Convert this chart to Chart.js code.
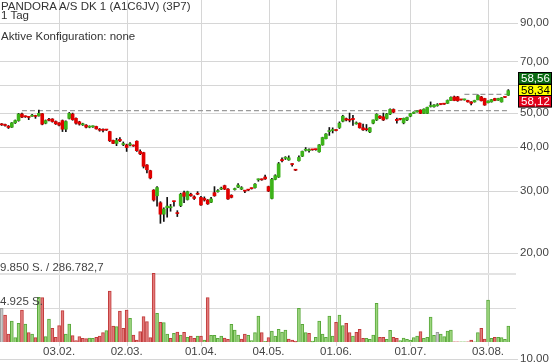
<!DOCTYPE html>
<html><head><meta charset="utf-8">
<script src="https://cdn.jsdelivr.net/npm/chart.js@4/dist/chart.umd.min.js"></script>
<style>
html,body{margin:0;padding:0;background:#fff;}
#wrap{position:relative;width:560px;height:362px;overflow:hidden;}
canvas{position:absolute;left:0;top:0;}
.t{position:absolute;left:1px;font-family:"Liberation Sans",Arial,sans-serif;font-size:11.5px;line-height:12px;color:#333;white-space:nowrap;}
</style></head><body>
<div id="wrap"><canvas id="c" width="560" height="362"></canvas>
<div class="t" style="top:0px">PANDORA A/S DK 1 (A1C6JV) (3P7)</div>
<div class="t" style="top:9px">1 Tag</div>
<div class="t" style="top:30px">Aktive Konfiguration: none</div>
</div>
<script>
// ---- data ----
const dates = [
"09.01.","10.01.","13.01.","14.01.","15.01.","16.01.","17.01.","20.01.","21.01.","22.01.","23.01.","24.01.","27.01.","28.01.","29.01.","30.01.","31.01.",
"03.02.","04.02.","05.02.","06.02.","07.02.","10.02.","11.02.","12.02.","13.02.","14.02.","17.02.","18.02.","19.02.","20.02.","21.02.","24.02.","25.02.","26.02.","27.02.","28.02.",
"02.03.","03.03.","04.03.","05.03.","06.03.","09.03.","10.03.","11.03.","12.03.","13.03.","16.03.","17.03.","18.03.","19.03.","20.03.","23.03.","24.03.","25.03.","26.03.","27.03.","30.03.","31.03.",
"01.04.","02.04.","03.04.","06.04.","07.04.","08.04.","09.04.","14.04.","15.04.","16.04.","17.04.","20.04.","21.04.","22.04.","23.04.","24.04.","27.04.","28.04.","29.04.","30.04.",
"04.05.","05.05.","06.05.","07.05.","08.05.","11.05.","12.05.","13.05.","14.05.","15.05.","18.05.","19.05.","20.05.","21.05.","22.05.","25.05.","26.05.","27.05.","28.05.","29.05.",
"01.06.","02.06.","03.06.","04.06.","05.06.","08.06.","09.06.","10.06.","11.06.","12.06.","15.06.","16.06.","17.06.","18.06.","19.06.","22.06.","23.06.","24.06.","25.06.","26.06.","29.06.","30.06.",
"01.07.","02.07.","03.07.","06.07.","07.07.","08.07.","09.07.","10.07.","13.07.","14.07.","15.07.","16.07.","17.07.","20.07.","21.07.","22.07.","23.07.","24.07.","27.07.","28.07.","29.07.","30.07.","31.07.",
"03.08.","04.08.","05.08.","06.08.","07.08.","10.08.","11.08."];

const opens = [
46.5,46.3,45.9,45.6,46.9,47.6,49.7,49.0,48.8,49.0,49.2,49.1,49.8,46.8,48.0,48.1,47.3,
46.9,47.6,45.0,48.3,49.7,48.3,47.2,46.3,46.2,45.6,45.7,45.8,44.9,44.9,44.8,44.3,41.8,41.0,42.1,40.7,
40.6,40.6,40.5,41.6,38.9,38.6,35.6,34.3,30.2,29.1,27.8,25.8,26.9,26.9,28.1,26.0,27.3,29.7,28.4,29.4,28.9,29.5,
28.8,28.6,28.3,27.9,29.7,29.9,30.4,31.1,30.4,29.2,30.3,30.8,30.4,30.1,30.3,30.6,30.7,32.3,32.4,32.9,
30.9,28.6,32.4,32.9,36.9,37.2,36.8,35.9,34.5,36.6,37.7,39.2,39.1,39.4,39.4,38.8,40.6,42.3,44.3,44.6,
44.8,45.5,47.4,48.2,48.0,48.3,46.6,46.8,45.4,45.0,44.2,46.8,47.8,49.0,48.8,48.3,49.7,51.2,48.0,48.1,46.9,47.8,
49.0,49.9,50.4,51.0,49.9,49.9,52.2,52.1,52.5,53.0,53.1,53.3,54.3,55.6,55.6,54.6,54.5,54.3,53.8,53.8,54.6,55.6,55.0,
53.5,53.8,55.0,54.4,53.8,55.5,56.2];
const highs = [
46.7,46.5,46.1,47.0,47.8,49.9,50.0,49.1,48.9,49.6,49.3,51.0,49.9,47.8,48.3,48.2,47.5,
47.0,47.8,47.5,50.2,50.0,48.5,47.4,46.8,46.4,46.0,46.0,45.9,45.2,45.1,44.9,44.4,41.9,42.4,42.6,41.4,
40.8,41.2,40.6,41.7,39.3,38.7,35.7,34.4,30.3,30.9,28.0,26.9,28.8,27.5,28.1,26.4,29.6,30.0,30.0,29.6,29.1,29.9,
29.0,28.9,28.4,28.8,30.9,30.3,30.8,31.2,30.5,29.3,30.6,31.5,30.9,30.1,30.3,30.6,31.5,32.5,32.5,33.3,
31.0,32.6,33.4,36.2,37.3,37.6,37.8,35.9,34.5,37.8,39.0,39.9,39.6,39.4,39.5,40.7,42.7,43.7,45.5,45.4,
44.9,47.2,49.3,48.4,50.0,49.3,47.2,46.9,46.5,46.4,45.5,47.8,49.8,49.2,50.0,49.9,51.4,51.4,48.4,48.2,48.4,48.7,
49.9,50.4,50.7,51.1,51.4,52.0,53.8,52.9,53.2,53.1,53.2,54.5,55.6,55.9,55.8,54.7,54.8,54.4,53.9,54.4,56.3,55.8,55.1,
54.2,54.7,55.1,55.1,55.4,55.6,58.3];
const lows = [
46.1,45.9,45.2,45.5,46.7,47.4,48.5,48.6,47.9,48.9,48.3,49.0,46.3,46.6,47.5,47.1,46.4,
46.0,44.3,44.3,48.1,47.7,46.5,46.2,46.1,45.4,45.4,45.5,45.0,44.4,44.2,44.6,41.5,40.9,40.4,41.5,40.4,
38.9,40.3,40.2,38.9,38.1,34.9,33.8,32.5,28.1,27.2,24.3,24.6,25.3,26.3,27.2,25.4,27.1,27.8,28.3,29.0,28.4,29.3,
27.3,28.1,27.5,27.8,29.0,29.8,30.3,30.3,28.4,28.7,30.2,30.7,30.3,29.7,30.1,30.4,30.6,32.0,32.2,32.4,
29.9,28.5,32.3,32.8,36.3,36.9,36.7,35.3,34.3,36.5,37.6,39.0,38.7,39.2,39.2,38.7,40.5,42.2,43.2,43.9,
44.5,45.2,47.2,47.5,47.2,46.1,46.5,45.3,44.6,44.5,44.0,46.6,47.6,48.2,47.6,48.1,49.5,50.1,46.8,47.8,46.6,47.6,
48.8,49.8,50.3,49.8,49.8,49.8,52.0,52.0,52.3,52.8,52.9,53.2,54.2,54.2,54.0,54.4,54.4,53.7,52.7,53.7,54.5,54.1,52.6,
53.4,53.7,54.2,54.3,53.7,55.3,56.1];
const closes = [
46.3,46.1,45.5,46.9,47.6,49.7,48.7,48.8,48.6,49.3,48.9,49.9,46.5,47.6,47.7,47.3,46.6,
46.2,45.0,47.3,49.9,47.9,46.8,46.5,46.45,45.6,45.8,45.9,45.1,44.7,44.65,44.75,41.7,41.0,41.8,41.7,40.8,
39.9,40.8,40.3,39.1,38.3,35.3,34.5,32.7,28.3,30.7,25.8,26.7,27.2,27.1,28.0,25.9,29.4,29.0,29.9,29.1,28.6,29.4,
27.4,28.3,27.6,28.5,29.1,30.1,30.6,30.4,28.5,28.8,30.4,31.2,30.7,30.0,30.2,30.5,31.4,32.4,32.3,32.5,
30.0,32.4,33.2,35.9,36.6,37.4,37.3,35.7,34.4,37.4,38.9,39.4,39.2,39.3,39.35,40.6,42.6,43.6,44.5,44.8,
44.6,46.8,49.0,47.8,47.7,47.9,46.8,45.4,44.8,44.85,45.4,47.8,49.6,48.4,47.8,49.7,51.2,50.3,47.6,48.0,48.3,48.6,
49.8,50.3,50.6,49.9,51.3,51.9,52.5,52.7,52.7,52.9,53.0,54.3,55.4,54.3,54.2,54.5,54.7,53.8,53.3,54.3,56.1,54.2,52.7,
54.1,54.6,54.3,55.0,55.3,55.4,57.9];
const volumes = [
4876,3911,1159,3042,628,2704,4635,2607,1352,1159,628,6470,6421,772,3331,1979,676,
2366,4538,1159,2607,917,193,772,531,483,579,531,676,869,1352,1642,7387,2317,2221,4490,1979,
4635,3428,1014,290,1497,3669,2945,628,9946,4152,2849,2800,1159,531,1255,1448,1014,1400,676,869,531,869,
869,290,6421,966,966,531,869,579,386,2559,1738,1000,435,1159,966,193,1352,3766,1352,100,
628,1593,869,1835,1448,1738,435,290,145,4876,2559,1352,1255,145,676,3042,1159,676,3766,869,
2849,3911,2366,2704,1352,869,1400,1835,531,531,400,1014,5600,676,676,386,1690,676,531,193,579,386,
290,628,869,1497,531,676,3621,966,1400,1159,772,1593,1738,40,40,40,40,40,290,40,1352,1979,435,
6083,531,676,676,628,386,2317];

const dateTicks = ["03.02.","02.03.","01.04.","04.05.","01.06.","01.07.","03.08."];
const priceTicks = [10,20,30,40,50,60,70,90];
const labeledPrices = [10,20,30,40,50,70,90];
const volumeTicks = [4925, 9850];
const volumeTickLabels = ["4.925 S.", "9.850 S. / 286.782,7"];
const quoteValues = [58.56, 58.34, 58.12];
const supportLevel = 50.8, supportFrom = "17.01.";
const resistanceLevel = 56.5, resistanceFrom = "23.07.";

// ---- styles ----
const FONT = '"Liberation Sans", Arial, sans-serif';
const candleGreen = '#3db31a', candleRed = '#e00000';
const lastIdx = dates.length - 1;
const bodyColors = opens.map((o,i)=> closes[i] >= o ? candleGreen : candleRed);
const volFill = closes.map((c,i)=> i===0 || c===closes[i-1] ? '#c9c9c9' : (c>closes[i-1] ? '#9ed67f' : '#e27c7c'));
const volLine = closes.map((c,i)=> i===0 || c===closes[i-1] ? '#9a9a9a' : (c>closes[i-1] ? '#58a83a' : '#c13a3a'));

function levelLine(level, fromLabel){
  const s = dates.indexOf(fromLabel);
  return dates.map((d,i)=> (i===s || i===lastIdx) ? level : null);
}

const overlay = {
  id:'overlay',
  beforeDatasetsDraw(chart){
    const {ctx, chartArea:a, scales:{x, v}} = chart;
    ctx.save();
    const volBase = v.getPixelForValue(0);
    ctx.strokeStyle = '#d6d6d6'; ctx.lineWidth = 1;
    dateTicks.forEach(t=>{
      const px = Math.round(x.getPixelForValue(dates.indexOf(t))) + 0.5;
      ctx.beginPath(); ctx.moveTo(px, a.top); ctx.lineTo(px, volBase + 4); ctx.stroke();
    });
    volumeTicks.forEach((val,k)=>{
      const py = Math.round(v.getPixelForValue(val));
      ctx.lineWidth = k===1 ? 2 : 1;
      ctx.strokeStyle = k===1 ? '#e3e3e3' : '#dadada';
      const yy = py + (k===1 ? 0 : 0.5);
      ctx.beginPath(); ctx.moveTo(a.left, yy); ctx.lineTo(a.right + 6, yy); ctx.stroke();
    });
    ctx.restore();
  },
  afterDatasetsDraw(chart){
    const {ctx, scales:{x, y, v}} = chart;
    ctx.save();
    ctx.font = '11.5px ' + FONT;
    ctx.fillStyle = '#444';
    ctx.textAlign = 'center'; ctx.textBaseline = 'alphabetic';
    const volBase = v.getPixelForValue(0);
    dateTicks.forEach(t=>{
      const px = x.getPixelForValue(dates.indexOf(t));
      ctx.fillText(t, px, volBase + 13);
    });
    ctx.textAlign = 'left';
    volumeTicks.forEach((val,k)=>{
      const py = v.getPixelForValue(val);
      ctx.fillText(volumeTickLabels[k], 0, py - 3);
    });
    // quote boxes
    const yc = y.getPixelForValue(quoteValues[1]);
    const h = 11.6, bx = 518.5, bw = 33;
    const fills = ['#0a6b12', '#ffff00', '#e2001a'];
    const txt = ['#ffffff', '#000000', '#ffffff'];
    quoteValues.forEach((q,k)=>{
      const top = Math.round(yc - 1.5*h + k*h) + 0.5;
      ctx.fillStyle = fills[k];
      ctx.fillRect(bx, top, bw, h);
      ctx.strokeStyle = '#000'; ctx.lineWidth = 1;
      ctx.strokeRect(bx, top, bw, h);
      ctx.fillStyle = txt[k];
      ctx.fillText(q.toFixed(2).replace('.', ','), bx + 2.5, top + h - 2);
    });
    ctx.restore();
  }
};

Chart.defaults.font.family = FONT;
new Chart(document.getElementById('c'), {
  type:'bar',
  data:{
    labels: dates,
    datasets:[
      {type:'line', data: levelLine(supportLevel, supportFrom), spanGaps:true, borderColor:'#9a9a9a', borderWidth:1.4, borderDash:[5,3], pointRadius:0, yAxisID:'y', order:6},
      {type:'line', data: levelLine(resistanceLevel, resistanceFrom), spanGaps:true, borderColor:'#9a9a9a', borderWidth:1.4, borderDash:[5,3], pointRadius:0, yAxisID:'y', order:6},
      {data: volumes, yAxisID:'v', backgroundColor: volFill, borderColor: volLine, borderWidth:1, borderSkipped:'start', barThickness:3, grouped:false, order:5},
      {data: lows.map((l,i)=>[l, highs[i]]), yAxisID:'y', backgroundColor:'#111', barThickness:1, grouped:false, order:2},
      {data: opens.map((o,i)=>[o, closes[i]]), yAxisID:'y', backgroundColor: bodyColors, barThickness:3, minBarLength:1, grouped:false, order:1}
    ]
  },
  options:{
    responsive:false, animation:false, devicePixelRatio:1,
    layout:{padding:{left:0, right:0, top:0, bottom:3}},
    plugins:{legend:{display:false}, tooltip:{enabled:false}},
    scales:{
      x:{type:'category', offset:true, display:false},
      y:{type:'logarithmic', position:'right', min:10, max:104.8, bounds:'data',
         afterBuildTicks: s => { s.ticks = priceTicks.map(p=>({value:p})); },
         afterFit: s => { s.width = 50; s.paddingTop = 0; s.paddingBottom = 0; },
         grid:{color:'#d6d6d6', lineWidth:1, tickLength:8, drawTicks:true},
         border:{display:false},
         ticks:{padding:2, color:'#444', autoSkip:false, font:{family:FONT, size:11.5},
                callback: val => labeledPrices.includes(val) ? val.toFixed(2).replace('.', ',') : ''}},
      v:{type:'linear', display:false, min:-2462.5, max:49539}
    }
  },
  plugins:[overlay]
});
</script>
</body></html>
